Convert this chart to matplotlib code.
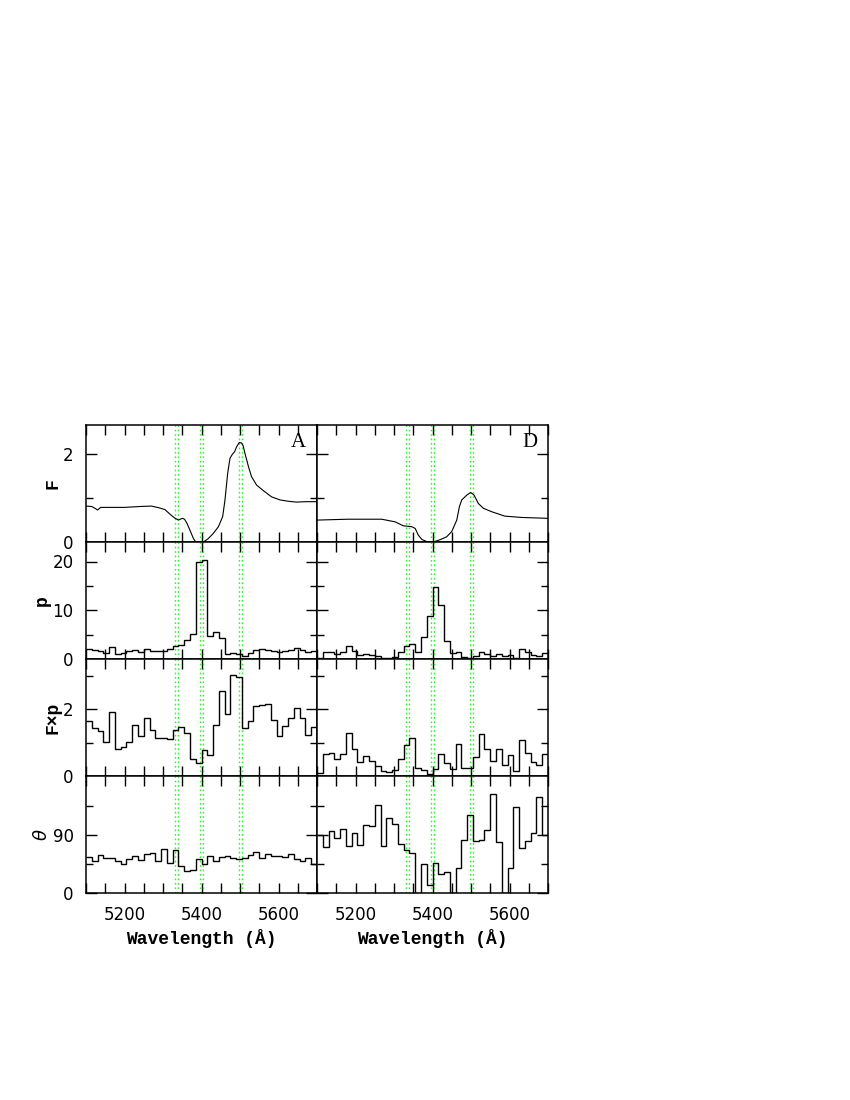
"""Spectropolarimetry panels (F, p, F x p, theta) for two objects, A and D."""

import numpy as np
import matplotlib

matplotlib.use("Agg")
import matplotlib.pyplot as plt  # noqa: E402
from matplotlib.ticker import FixedLocator, MultipleLocator  # noqa: E402

# --- data ------------------------------------------------------------------
panel_names = ["A", "D"]

# total flux (normalised), sampled along the curve
flux_wave_a = [5100, 5115, 5125, 5130, 5138, 5160, 5200, 5240, 5270, 5290, 5305,
               5320, 5330, 5340, 5350, 5356, 5362, 5370, 5379, 5385, 5405, 5418,
               5431, 5444, 5455, 5461, 5468, 5474, 5480, 5486, 5491, 5498, 5504,
               5508, 5513, 5522, 5530, 5543, 5561, 5582, 5604, 5625, 5647, 5670,
               5700]
flux_a = [0.82, 0.81, 0.76, 0.73, 0.79, 0.79, 0.79, 0.81, 0.82, 0.78, 0.74,
          0.62, 0.55, 0.50, 0.54, 0.52, 0.43, 0.27, 0.08, 0.00, 0.00, 0.08,
          0.20, 0.35, 0.58, 0.96, 1.57, 1.91, 2.00, 2.06, 2.17, 2.27, 2.26,
          2.20, 2.02, 1.72, 1.49, 1.30, 1.17, 1.03, 0.96, 0.93, 0.91, 0.92,
          0.92]
flux_wave_d = [5100, 5140, 5181, 5230, 5268, 5303, 5324, 5346, 5355, 5363, 5372,
               5385, 5402, 5419, 5437, 5450, 5463, 5470, 5476, 5489, 5499, 5508,
               5519, 5532, 5554, 5588, 5632, 5700]
flux_d = [0.50, 0.51, 0.52, 0.52, 0.52, 0.46, 0.37, 0.35, 0.31, 0.16, 0.06,
          0.01, 0.00, 0.05, 0.12, 0.24, 0.50, 0.81, 0.96, 1.07, 1.13, 1.07,
          0.88, 0.77, 0.69, 0.59, 0.56, 0.54]

# binned quantities, 40 bins of 15 A from 5100 to 5700
bin_edges = np.arange(5100, 5701, 15)

pol_a = [2.05, 1.91, 1.71, 1.23, 2.39, 1.02, 1.23, 1.57, 1.91, 1.43,
         2.05, 1.71, 1.57, 1.71, 2.05, 2.73, 2.94, 3.96, 5.19, 19.9,
         20.4, 4.64, 5.46, 4.23, 1.09, 1.23, 1.09, 0.68, 1.23, 1.91,
         2.12, 1.91, 1.71, 1.37, 1.71, 1.91, 2.25, 1.91, 1.50, 1.71]
pol_d = [0.20, 1.37, 1.37, 1.09, 1.37, 2.60, 1.71, 0.75, 1.09, 0.75,
         0.55, 0.20, 0.20, 0.41, 1.37, 2.60, 3.14, 1.37, 4.51, 8.74,
         14.75, 11.13, 3.62, 1.23, 1.37, 0.41, 0.20, 0.68, 1.37, 1.09,
         0.55, 1.09, 0.68, 0.89, 0.20, 2.05, 1.37, 0.89, 0.68, 1.23]

fp_a = [1.65, 1.45, 1.35, 1.03, 1.92, 0.82, 0.87, 1.02, 1.54, 1.19,
        1.74, 1.38, 1.13, 1.15, 1.10, 1.38, 1.48, 1.29, 0.50, 0.40,
        0.77, 0.63, 1.54, 2.53, 1.86, 3.02, 2.95, 1.45, 1.64, 2.08,
        2.13, 2.14, 1.68, 1.20, 1.50, 1.75, 2.03, 1.75, 1.22, 1.47]
fp_d = [0.10, 0.67, 0.69, 0.52, 0.67, 1.29, 0.82, 0.43, 0.60, 0.46,
        0.30, 0.15, 0.11, 0.18, 0.52, 0.92, 1.14, 0.25, 0.17, 0.06,
        0.22, 0.67, 0.40, 0.22, 0.95, 0.25, 0.25, 0.57, 1.25, 0.82,
        0.44, 0.80, 0.32, 0.64, 0.14, 1.09, 0.68, 0.43, 0.32, 0.66]

theta_a = [56.6, 50.4, 59.2, 54.0, 55.0, 50.4, 45.3, 53.0, 58.1, 51.4,
           61.2, 62.2, 49.9, 67.9, 47.3, 67.4, 41.7, 34.0, 36.0, 53.5,
           45.3, 58.1, 49.9, 55.6, 58.1, 55.0, 53.0, 55.0, 59.2, 63.3,
           55.0, 60.2, 58.1, 57.1, 56.1, 61.2, 53.0, 50.4, 54.5, 45.3]
theta_d = [90.5, 71.0, 96.7, 84.9, 100.3, 73.6, 94.1, 74.6, 106.0, 104.4,
           136.3, 73.6, 117.3, 107.0, 76.1, 67.4, 62.2, 0.0, 45.3, 12.9,
           46.3, 29.8, 32.4, 0.0, 39.6, 82.8, 121.9, 80.8, 82.8, 97.7,
           154.3, 79.7, 0.0, 38.6, 133.7, 69.4, 81.3, 94.1, 149.2, 90.5]

# marked line positions (pairs of dotted lines)
line_marks = [5332, 5340, 5396, 5404, 5498, 5506]

row_labels = ["F", "p", "F\u00d7p", r"$\theta$"]
row_ylims = [(0, 2.67), (0, 24), (0, 3.5), (0, 182)]
row_major = [[0, 2], [0, 10, 20], [0, 2], [0, 90]]
row_minor = [[1], [5, 15], [1, 3], [45, 135]]

# --- figure ----------------------------------------------------------------
fig = plt.figure(figsize=(8.5, 11), dpi=100)
axes = fig.subplots(4, 2, sharex=True)
fig.subplots_adjust(left=86 / 850, right=548 / 850,
                    bottom=1 - 893 / 1100, top=1 - 425 / 1100,
                    wspace=0, hspace=0)

series = {
    1: (pol_a, pol_d),
    2: (fp_a, fp_d),
    3: (theta_a, theta_d),
}
mono = "Liberation Mono"

for row in range(4):
    for col in range(2):
        ax = axes[row, col]
        if row == 0:
            xs, ys = (flux_wave_a, flux_a) if col == 0 else (flux_wave_d, flux_d)
            ax.plot(xs, ys, color="black", lw=0.8, zorder=3)
        else:
            vals = series[row][col]
            ax.stairs(vals, bin_edges, color="black", lw=1.0, baseline=None, zorder=3)

        for lam in line_marks:
            ax.axvline(lam, color="#33ee33", lw=1.0, ls=(0, (1.2, 2.0)), zorder=2)

        ax.set_xlim(5100, 5700)
        ax.set_ylim(*row_ylims[row])
        ax.xaxis.set_major_locator(MultipleLocator(200))
        ax.xaxis.set_minor_locator(MultipleLocator(50))
        ax.yaxis.set_major_locator(FixedLocator(row_major[row]))
        ax.yaxis.set_minor_locator(FixedLocator(row_minor[row]))
        ax.tick_params(which="both", direction="in", top=True, right=True,
                       width=1.0, labelsize=12, pad=9)
        ax.tick_params(which="major", axis="y", length=8)
        ax.tick_params(which="minor", axis="y", length=5)
        ax.tick_params(which="both", axis="x", length=7)
        for sp in ax.spines.values():
            sp.set_linewidth(1.1)

        if col == 1:
            ax.tick_params(labelleft=False)
        else:
            ax.set_ylabel(row_labels[row], family=mono, fontweight="bold",
                          fontsize=13, labelpad=1)
        if row < 3:
            ax.tick_params(labelbottom=False)
        else:
            ax.set_xlabel("Wavelength (\u00c5)", family=mono, fontweight="bold",
                          fontsize=13, labelpad=4)
        if row == 0:
            ax.text(0.92, 0.85, panel_names[col], transform=ax.transAxes,
                    ha="center", va="center", family="Liberation Serif",
                    fontsize=15)

fig.savefig("out.png", dpi=100)
plt.close(fig)
